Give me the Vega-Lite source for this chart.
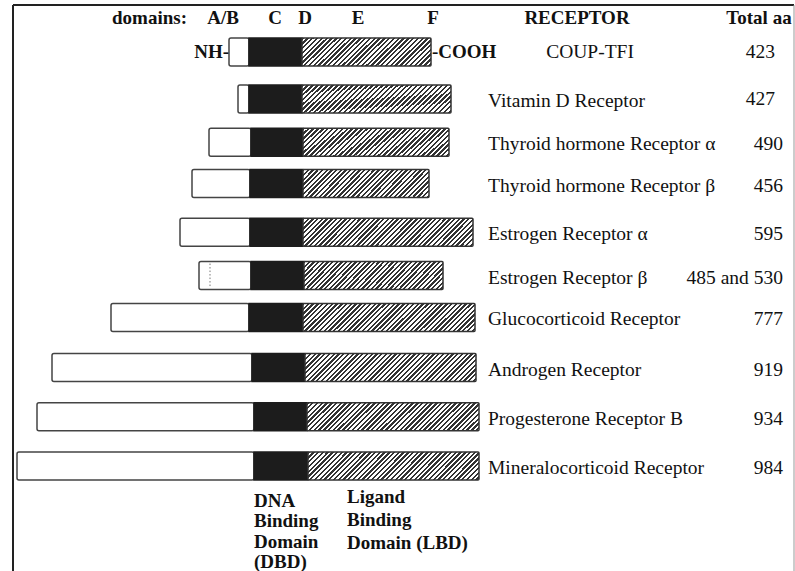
{
  "$schema": "https://vega.github.io/schema/vega-lite/v6.json",
  "width": 795,
  "height": 571,
  "autosize": "none",
  "padding": 0,
  "background": "white",
  "config": {"view": {"stroke": null}, "text": {"font": "Liberation Serif", "fontSize": 19.5, "color": "#111"}, "scale": {"continuousPadding": 0}},
  "datasets": {
    "receptors": [
      {"name": "COUP-TFI", "total": "423", "row": 1.0, "start": 229, "dbd": 249, "lbd": 302, "end": 431},
      {"name": "Vitamin D Receptor", "total": "427", "row": 2.02, "start": 238, "dbd": 249, "lbd": 302, "end": 451},
      {"name": "Thyroid hormone Receptor α", "total": "490", "row": 2.96, "start": 209, "dbd": 251, "lbd": 303, "end": 449},
      {"name": "Thyroid hormone Receptor β", "total": "456", "row": 3.86, "start": 192, "dbd": 250, "lbd": 303, "end": 429},
      {"name": "Estrogen Receptor α", "total": "595", "row": 4.92, "start": 180, "dbd": 250, "lbd": 303, "end": 473},
      {"name": "Estrogen Receptor β", "total": "485 and 530", "row": 5.86, "start": 199, "dbd": 251, "lbd": 304, "end": 443, "alt": 210},
      {"name": "Glucocorticoid Receptor", "total": "777", "row": 6.77, "start": 111, "dbd": 249, "lbd": 303, "end": 475},
      {"name": "Androgen Receptor", "total": "919", "row": 7.86, "start": 52, "dbd": 252, "lbd": 305, "end": 476},
      {"name": "Progesterone Receptor B", "total": "934", "row": 8.93, "start": 37, "dbd": 254, "lbd": 307, "end": 479},
      {"name": "Mineralocorticoid Receptor", "total": "984", "row": 10.0, "start": 17, "dbd": 254, "lbd": 308, "end": 479}
    ],
    "headers": [
      {"label": "domains:", "at": 149.5},
      {"label": "A/B", "at": 223},
      {"label": "C", "at": 275},
      {"label": "D", "at": 305},
      {"label": "E", "at": 358},
      {"label": "F", "at": 433},
      {"label": "RECEPTOR", "at": 577},
      {"label": "Total aa", "at": 759}
    ],
    "one": [{}]
  },
  "layer": [
    {
      "data": {"name": "one"},
      "mark": {"type": "rule", "stroke": "#222", "strokeWidth": 2},
      "encoding": {
        "x": {"datum": 13, "type": "quantitative", "scale": {"domain": [0, 795], "nice": false, "zero": false, "padding": 0}, "axis": null},
        "y": {"datum": -0.02, "type": "quantitative", "scale": {"domain": [-0.1304, 12.2826], "nice": false, "zero": false, "reverse": true, "padding": 0}, "axis": null},
        "y2": {"datum": 12.2826}
      }
    },
    {
      "data": {"name": "one"},
      "mark": {"type": "rule", "stroke": "#222", "strokeWidth": 2},
      "encoding": {
        "x": {"datum": 13, "type": "quantitative", "scale": {"domain": [0, 795], "nice": false, "zero": false, "padding": 0}, "axis": null},
        "x2": {"datum": 794},
        "y": {"datum": -0.02, "type": "quantitative", "scale": {"domain": [-0.1304, 12.2826], "nice": false, "zero": false, "reverse": true, "padding": 0}, "axis": null}
      }
    },
    {
      "data": {"name": "one"},
      "mark": {"type": "rule", "stroke": "#999", "strokeWidth": 1},
      "encoding": {
        "x": {"datum": 794, "type": "quantitative", "scale": {"domain": [0, 795], "nice": false, "zero": false, "padding": 0}, "axis": null},
        "y": {"datum": -0.02, "type": "quantitative", "scale": {"domain": [-0.1304, 12.2826], "nice": false, "zero": false, "reverse": true, "padding": 0}, "axis": null},
        "y2": {"datum": 12.2826}
      }
    },
    {
      "data": {"name": "receptors"},
      "mark": {"type": "bar", "orient": "horizontal", "height": 28, "fill": "white", "stroke": "#444", "strokeWidth": 1.5, "cornerRadius": 2},
      "encoding": {
        "x": {"field": "start", "type": "quantitative", "scale": {"domain": [0, 795], "nice": false, "zero": false, "padding": 0}, "axis": null},
        "x2": {"field": "dbd"},
        "y": {"field": "row", "type": "quantitative", "scale": {"domain": [-0.1304, 12.2826], "nice": false, "zero": false, "reverse": true, "padding": 0}, "axis": null}
      }
    },
    {
      "data": {"name": "receptors"},
      "mark": {"type": "bar", "orient": "horizontal", "height": 28, "fill": "#1c1c1c", "stroke": "#1c1c1c", "strokeWidth": 1.5},
      "encoding": {
        "x": {"field": "dbd", "type": "quantitative", "scale": {"domain": [0, 795], "nice": false, "zero": false, "padding": 0}, "axis": null},
        "x2": {"field": "lbd"},
        "y": {"field": "row", "type": "quantitative", "scale": {"domain": [-0.1304, 12.2826], "nice": false, "zero": false, "reverse": true, "padding": 0}, "axis": null}
      }
    },
    {
      "data": {"name": "receptors"},
      "transform": [{"filter": "datum.end - datum.lbd >= 160"}],
      "mark": {"type": "bar", "orient": "horizontal", "height": 28, "stroke": "#333", "strokeWidth": 1.5, "cornerRadius": 1,
        "fill": {"gradient": "linear", "x1": 0, "y1": 0, "x2": 1.3526, "y2": 0.2214, "stops": [
          {"offset": 0, "color": "#333"}, {"offset": 0.01, "color": "#333"}, {"offset": 0.01, "color": "#fff"}, {"offset": 0.02, "color": "#fff"}, {"offset": 0.02, "color": "#333"}, {"offset": 0.03, "color": "#333"}, {"offset": 0.03, "color": "#fff"}, {"offset": 0.04, "color": "#fff"},
          {"offset": 0.04, "color": "#333"}, {"offset": 0.05, "color": "#333"}, {"offset": 0.05, "color": "#fff"}, {"offset": 0.06, "color": "#fff"}, {"offset": 0.06, "color": "#333"}, {"offset": 0.07, "color": "#333"}, {"offset": 0.07, "color": "#fff"}, {"offset": 0.08, "color": "#fff"},
          {"offset": 0.08, "color": "#333"}, {"offset": 0.09, "color": "#333"}, {"offset": 0.09, "color": "#fff"}, {"offset": 0.10, "color": "#fff"}, {"offset": 0.10, "color": "#333"}, {"offset": 0.11, "color": "#333"}, {"offset": 0.11, "color": "#fff"}, {"offset": 0.12, "color": "#fff"},
          {"offset": 0.12, "color": "#333"}, {"offset": 0.13, "color": "#333"}, {"offset": 0.13, "color": "#fff"}, {"offset": 0.14, "color": "#fff"}, {"offset": 0.14, "color": "#333"}, {"offset": 0.15, "color": "#333"}, {"offset": 0.15, "color": "#fff"}, {"offset": 0.16, "color": "#fff"},
          {"offset": 0.16, "color": "#333"}, {"offset": 0.17, "color": "#333"}, {"offset": 0.17, "color": "#fff"}, {"offset": 0.18, "color": "#fff"}, {"offset": 0.18, "color": "#333"}, {"offset": 0.19, "color": "#333"}, {"offset": 0.19, "color": "#fff"}, {"offset": 0.20, "color": "#fff"},
          {"offset": 0.20, "color": "#333"}, {"offset": 0.21, "color": "#333"}, {"offset": 0.21, "color": "#fff"}, {"offset": 0.22, "color": "#fff"}, {"offset": 0.22, "color": "#333"}, {"offset": 0.23, "color": "#333"}, {"offset": 0.23, "color": "#fff"}, {"offset": 0.24, "color": "#fff"},
          {"offset": 0.24, "color": "#333"}, {"offset": 0.25, "color": "#333"}, {"offset": 0.25, "color": "#fff"}, {"offset": 0.26, "color": "#fff"}, {"offset": 0.26, "color": "#333"}, {"offset": 0.27, "color": "#333"}, {"offset": 0.27, "color": "#fff"}, {"offset": 0.28, "color": "#fff"},
          {"offset": 0.28, "color": "#333"}, {"offset": 0.29, "color": "#333"}, {"offset": 0.29, "color": "#fff"}, {"offset": 0.30, "color": "#fff"}, {"offset": 0.30, "color": "#333"}, {"offset": 0.31, "color": "#333"}, {"offset": 0.31, "color": "#fff"}, {"offset": 0.32, "color": "#fff"},
          {"offset": 0.32, "color": "#333"}, {"offset": 0.33, "color": "#333"}, {"offset": 0.33, "color": "#fff"}, {"offset": 0.34, "color": "#fff"}, {"offset": 0.34, "color": "#333"}, {"offset": 0.35, "color": "#333"}, {"offset": 0.35, "color": "#fff"}, {"offset": 0.36, "color": "#fff"},
          {"offset": 0.36, "color": "#333"}, {"offset": 0.37, "color": "#333"}, {"offset": 0.37, "color": "#fff"}, {"offset": 0.38, "color": "#fff"}, {"offset": 0.38, "color": "#333"}, {"offset": 0.39, "color": "#333"}, {"offset": 0.39, "color": "#fff"}, {"offset": 0.40, "color": "#fff"},
          {"offset": 0.40, "color": "#333"}, {"offset": 0.41, "color": "#333"}, {"offset": 0.41, "color": "#fff"}, {"offset": 0.42, "color": "#fff"}, {"offset": 0.42, "color": "#333"}, {"offset": 0.43, "color": "#333"}, {"offset": 0.43, "color": "#fff"}, {"offset": 0.44, "color": "#fff"},
          {"offset": 0.44, "color": "#333"}, {"offset": 0.45, "color": "#333"}, {"offset": 0.45, "color": "#fff"}, {"offset": 0.46, "color": "#fff"}, {"offset": 0.46, "color": "#333"}, {"offset": 0.47, "color": "#333"}, {"offset": 0.47, "color": "#fff"}, {"offset": 0.48, "color": "#fff"},
          {"offset": 0.48, "color": "#333"}, {"offset": 0.49, "color": "#333"}, {"offset": 0.49, "color": "#fff"}, {"offset": 0.50, "color": "#fff"}, {"offset": 0.50, "color": "#333"}, {"offset": 0.51, "color": "#333"}, {"offset": 0.51, "color": "#fff"}, {"offset": 0.52, "color": "#fff"},
          {"offset": 0.52, "color": "#333"}, {"offset": 0.53, "color": "#333"}, {"offset": 0.53, "color": "#fff"}, {"offset": 0.54, "color": "#fff"}, {"offset": 0.54, "color": "#333"}, {"offset": 0.55, "color": "#333"}, {"offset": 0.55, "color": "#fff"}, {"offset": 0.56, "color": "#fff"},
          {"offset": 0.56, "color": "#333"}, {"offset": 0.57, "color": "#333"}, {"offset": 0.57, "color": "#fff"}, {"offset": 0.58, "color": "#fff"}, {"offset": 0.58, "color": "#333"}, {"offset": 0.59, "color": "#333"}, {"offset": 0.59, "color": "#fff"}, {"offset": 0.60, "color": "#fff"},
          {"offset": 0.60, "color": "#333"}, {"offset": 0.61, "color": "#333"}, {"offset": 0.61, "color": "#fff"}, {"offset": 0.62, "color": "#fff"}, {"offset": 0.62, "color": "#333"}, {"offset": 0.63, "color": "#333"}, {"offset": 0.63, "color": "#fff"}, {"offset": 0.64, "color": "#fff"},
          {"offset": 0.64, "color": "#333"}, {"offset": 0.65, "color": "#333"}, {"offset": 0.65, "color": "#fff"}, {"offset": 0.66, "color": "#fff"}, {"offset": 0.66, "color": "#333"}, {"offset": 0.67, "color": "#333"}, {"offset": 0.67, "color": "#fff"}, {"offset": 0.68, "color": "#fff"},
          {"offset": 0.68, "color": "#333"}, {"offset": 0.69, "color": "#333"}, {"offset": 0.69, "color": "#fff"}, {"offset": 0.70, "color": "#fff"}, {"offset": 0.70, "color": "#333"}, {"offset": 0.71, "color": "#333"}, {"offset": 0.71, "color": "#fff"}, {"offset": 0.72, "color": "#fff"},
          {"offset": 0.72, "color": "#333"}, {"offset": 0.73, "color": "#333"}, {"offset": 0.73, "color": "#fff"}, {"offset": 0.74, "color": "#fff"}, {"offset": 0.74, "color": "#333"}, {"offset": 0.75, "color": "#333"}, {"offset": 0.75, "color": "#fff"}, {"offset": 0.76, "color": "#fff"},
          {"offset": 0.76, "color": "#333"}, {"offset": 0.77, "color": "#333"}, {"offset": 0.77, "color": "#fff"}, {"offset": 0.78, "color": "#fff"}, {"offset": 0.78, "color": "#333"}, {"offset": 0.79, "color": "#333"}, {"offset": 0.79, "color": "#fff"}, {"offset": 0.80, "color": "#fff"},
          {"offset": 0.80, "color": "#333"}, {"offset": 0.81, "color": "#333"}, {"offset": 0.81, "color": "#fff"}, {"offset": 0.82, "color": "#fff"}, {"offset": 0.82, "color": "#333"}, {"offset": 0.83, "color": "#333"}, {"offset": 0.83, "color": "#fff"}, {"offset": 0.84, "color": "#fff"},
          {"offset": 0.84, "color": "#333"}, {"offset": 0.85, "color": "#333"}, {"offset": 0.85, "color": "#fff"}, {"offset": 0.86, "color": "#fff"}, {"offset": 0.86, "color": "#333"}, {"offset": 0.87, "color": "#333"}, {"offset": 0.87, "color": "#fff"}, {"offset": 0.88, "color": "#fff"}
        ]}},
      "encoding": {
        "x": {"field": "lbd", "type": "quantitative", "scale": {"domain": [0, 795], "nice": false, "zero": false, "padding": 0}, "axis": null},
        "x2": {"field": "end"},
        "y": {"field": "row", "type": "quantitative", "scale": {"domain": [-0.1304, 12.2826], "nice": false, "zero": false, "reverse": true, "padding": 0}, "axis": null}
      }
    },
    {
      "data": {"name": "receptors"},
      "transform": [{"filter": "datum.end - datum.lbd >= 135 && datum.end - datum.lbd < 160"}],
      "mark": {"type": "bar", "orient": "horizontal", "height": 28, "stroke": "#333", "strokeWidth": 1.5, "cornerRadius": 1,
        "fill": {"gradient": "linear", "x1": 0, "y1": 0, "x2": 1.61, "y2": 0.3175, "stops": [
          {"offset": 0, "color": "#333"}, {"offset": 0.01, "color": "#333"}, {"offset": 0.01, "color": "#fff"}, {"offset": 0.02, "color": "#fff"}, {"offset": 0.02, "color": "#333"}, {"offset": 0.03, "color": "#333"}, {"offset": 0.03, "color": "#fff"}, {"offset": 0.04, "color": "#fff"},
          {"offset": 0.04, "color": "#333"}, {"offset": 0.05, "color": "#333"}, {"offset": 0.05, "color": "#fff"}, {"offset": 0.06, "color": "#fff"}, {"offset": 0.06, "color": "#333"}, {"offset": 0.07, "color": "#333"}, {"offset": 0.07, "color": "#fff"}, {"offset": 0.08, "color": "#fff"},
          {"offset": 0.08, "color": "#333"}, {"offset": 0.09, "color": "#333"}, {"offset": 0.09, "color": "#fff"}, {"offset": 0.10, "color": "#fff"}, {"offset": 0.10, "color": "#333"}, {"offset": 0.11, "color": "#333"}, {"offset": 0.11, "color": "#fff"}, {"offset": 0.12, "color": "#fff"},
          {"offset": 0.12, "color": "#333"}, {"offset": 0.13, "color": "#333"}, {"offset": 0.13, "color": "#fff"}, {"offset": 0.14, "color": "#fff"}, {"offset": 0.14, "color": "#333"}, {"offset": 0.15, "color": "#333"}, {"offset": 0.15, "color": "#fff"}, {"offset": 0.16, "color": "#fff"},
          {"offset": 0.16, "color": "#333"}, {"offset": 0.17, "color": "#333"}, {"offset": 0.17, "color": "#fff"}, {"offset": 0.18, "color": "#fff"}, {"offset": 0.18, "color": "#333"}, {"offset": 0.19, "color": "#333"}, {"offset": 0.19, "color": "#fff"}, {"offset": 0.20, "color": "#fff"},
          {"offset": 0.20, "color": "#333"}, {"offset": 0.21, "color": "#333"}, {"offset": 0.21, "color": "#fff"}, {"offset": 0.22, "color": "#fff"}, {"offset": 0.22, "color": "#333"}, {"offset": 0.23, "color": "#333"}, {"offset": 0.23, "color": "#fff"}, {"offset": 0.24, "color": "#fff"},
          {"offset": 0.24, "color": "#333"}, {"offset": 0.25, "color": "#333"}, {"offset": 0.25, "color": "#fff"}, {"offset": 0.26, "color": "#fff"}, {"offset": 0.26, "color": "#333"}, {"offset": 0.27, "color": "#333"}, {"offset": 0.27, "color": "#fff"}, {"offset": 0.28, "color": "#fff"},
          {"offset": 0.28, "color": "#333"}, {"offset": 0.29, "color": "#333"}, {"offset": 0.29, "color": "#fff"}, {"offset": 0.30, "color": "#fff"}, {"offset": 0.30, "color": "#333"}, {"offset": 0.31, "color": "#333"}, {"offset": 0.31, "color": "#fff"}, {"offset": 0.32, "color": "#fff"},
          {"offset": 0.32, "color": "#333"}, {"offset": 0.33, "color": "#333"}, {"offset": 0.33, "color": "#fff"}, {"offset": 0.34, "color": "#fff"}, {"offset": 0.34, "color": "#333"}, {"offset": 0.35, "color": "#333"}, {"offset": 0.35, "color": "#fff"}, {"offset": 0.36, "color": "#fff"},
          {"offset": 0.36, "color": "#333"}, {"offset": 0.37, "color": "#333"}, {"offset": 0.37, "color": "#fff"}, {"offset": 0.38, "color": "#fff"}, {"offset": 0.38, "color": "#333"}, {"offset": 0.39, "color": "#333"}, {"offset": 0.39, "color": "#fff"}, {"offset": 0.40, "color": "#fff"},
          {"offset": 0.40, "color": "#333"}, {"offset": 0.41, "color": "#333"}, {"offset": 0.41, "color": "#fff"}, {"offset": 0.42, "color": "#fff"}, {"offset": 0.42, "color": "#333"}, {"offset": 0.43, "color": "#333"}, {"offset": 0.43, "color": "#fff"}, {"offset": 0.44, "color": "#fff"},
          {"offset": 0.44, "color": "#333"}, {"offset": 0.45, "color": "#333"}, {"offset": 0.45, "color": "#fff"}, {"offset": 0.46, "color": "#fff"}, {"offset": 0.46, "color": "#333"}, {"offset": 0.47, "color": "#333"}, {"offset": 0.47, "color": "#fff"}, {"offset": 0.48, "color": "#fff"},
          {"offset": 0.48, "color": "#333"}, {"offset": 0.49, "color": "#333"}, {"offset": 0.49, "color": "#fff"}, {"offset": 0.50, "color": "#fff"}, {"offset": 0.50, "color": "#333"}, {"offset": 0.51, "color": "#333"}, {"offset": 0.51, "color": "#fff"}, {"offset": 0.52, "color": "#fff"},
          {"offset": 0.52, "color": "#333"}, {"offset": 0.53, "color": "#333"}, {"offset": 0.53, "color": "#fff"}, {"offset": 0.54, "color": "#fff"}, {"offset": 0.54, "color": "#333"}, {"offset": 0.55, "color": "#333"}, {"offset": 0.55, "color": "#fff"}, {"offset": 0.56, "color": "#fff"},
          {"offset": 0.56, "color": "#333"}, {"offset": 0.57, "color": "#333"}, {"offset": 0.57, "color": "#fff"}, {"offset": 0.58, "color": "#fff"}, {"offset": 0.58, "color": "#333"}, {"offset": 0.59, "color": "#333"}, {"offset": 0.59, "color": "#fff"}, {"offset": 0.60, "color": "#fff"},
          {"offset": 0.60, "color": "#333"}, {"offset": 0.61, "color": "#333"}, {"offset": 0.61, "color": "#fff"}, {"offset": 0.62, "color": "#fff"}, {"offset": 0.62, "color": "#333"}, {"offset": 0.63, "color": "#333"}, {"offset": 0.63, "color": "#fff"}, {"offset": 0.64, "color": "#fff"},
          {"offset": 0.64, "color": "#333"}, {"offset": 0.65, "color": "#333"}, {"offset": 0.65, "color": "#fff"}, {"offset": 0.66, "color": "#fff"}, {"offset": 0.66, "color": "#333"}, {"offset": 0.67, "color": "#333"}, {"offset": 0.67, "color": "#fff"}, {"offset": 0.68, "color": "#fff"},
          {"offset": 0.68, "color": "#333"}, {"offset": 0.69, "color": "#333"}, {"offset": 0.69, "color": "#fff"}, {"offset": 0.70, "color": "#fff"}, {"offset": 0.70, "color": "#333"}, {"offset": 0.71, "color": "#333"}, {"offset": 0.71, "color": "#fff"}, {"offset": 0.72, "color": "#fff"},
          {"offset": 0.72, "color": "#333"}, {"offset": 0.73, "color": "#333"}, {"offset": 0.73, "color": "#fff"}, {"offset": 0.74, "color": "#fff"}, {"offset": 0.74, "color": "#333"}, {"offset": 0.75, "color": "#333"}, {"offset": 0.75, "color": "#fff"}, {"offset": 0.76, "color": "#fff"}
        ]}},
      "encoding": {
        "x": {"field": "lbd", "type": "quantitative", "scale": {"domain": [0, 795], "nice": false, "zero": false, "padding": 0}, "axis": null},
        "x2": {"field": "end"},
        "y": {"field": "row", "type": "quantitative", "scale": {"domain": [-0.1304, 12.2826], "nice": false, "zero": false, "reverse": true, "padding": 0}, "axis": null}
      }
    },
    {
      "data": {"name": "receptors"},
      "transform": [{"filter": "datum.end - datum.lbd < 135"}],
      "mark": {"type": "bar", "orient": "horizontal", "height": 28, "stroke": "#333", "strokeWidth": 1.5, "cornerRadius": 1,
        "fill": {"gradient": "linear", "x1": 0, "y1": 0, "x2": 1.777, "y2": 0.3903, "stops": [
          {"offset": 0, "color": "#333"}, {"offset": 0.01, "color": "#333"}, {"offset": 0.01, "color": "#fff"}, {"offset": 0.02, "color": "#fff"}, {"offset": 0.02, "color": "#333"}, {"offset": 0.03, "color": "#333"}, {"offset": 0.03, "color": "#fff"}, {"offset": 0.04, "color": "#fff"},
          {"offset": 0.04, "color": "#333"}, {"offset": 0.05, "color": "#333"}, {"offset": 0.05, "color": "#fff"}, {"offset": 0.06, "color": "#fff"}, {"offset": 0.06, "color": "#333"}, {"offset": 0.07, "color": "#333"}, {"offset": 0.07, "color": "#fff"}, {"offset": 0.08, "color": "#fff"},
          {"offset": 0.08, "color": "#333"}, {"offset": 0.09, "color": "#333"}, {"offset": 0.09, "color": "#fff"}, {"offset": 0.10, "color": "#fff"}, {"offset": 0.10, "color": "#333"}, {"offset": 0.11, "color": "#333"}, {"offset": 0.11, "color": "#fff"}, {"offset": 0.12, "color": "#fff"},
          {"offset": 0.12, "color": "#333"}, {"offset": 0.13, "color": "#333"}, {"offset": 0.13, "color": "#fff"}, {"offset": 0.14, "color": "#fff"}, {"offset": 0.14, "color": "#333"}, {"offset": 0.15, "color": "#333"}, {"offset": 0.15, "color": "#fff"}, {"offset": 0.16, "color": "#fff"},
          {"offset": 0.16, "color": "#333"}, {"offset": 0.17, "color": "#333"}, {"offset": 0.17, "color": "#fff"}, {"offset": 0.18, "color": "#fff"}, {"offset": 0.18, "color": "#333"}, {"offset": 0.19, "color": "#333"}, {"offset": 0.19, "color": "#fff"}, {"offset": 0.20, "color": "#fff"},
          {"offset": 0.20, "color": "#333"}, {"offset": 0.21, "color": "#333"}, {"offset": 0.21, "color": "#fff"}, {"offset": 0.22, "color": "#fff"}, {"offset": 0.22, "color": "#333"}, {"offset": 0.23, "color": "#333"}, {"offset": 0.23, "color": "#fff"}, {"offset": 0.24, "color": "#fff"},
          {"offset": 0.24, "color": "#333"}, {"offset": 0.25, "color": "#333"}, {"offset": 0.25, "color": "#fff"}, {"offset": 0.26, "color": "#fff"}, {"offset": 0.26, "color": "#333"}, {"offset": 0.27, "color": "#333"}, {"offset": 0.27, "color": "#fff"}, {"offset": 0.28, "color": "#fff"},
          {"offset": 0.28, "color": "#333"}, {"offset": 0.29, "color": "#333"}, {"offset": 0.29, "color": "#fff"}, {"offset": 0.30, "color": "#fff"}, {"offset": 0.30, "color": "#333"}, {"offset": 0.31, "color": "#333"}, {"offset": 0.31, "color": "#fff"}, {"offset": 0.32, "color": "#fff"},
          {"offset": 0.32, "color": "#333"}, {"offset": 0.33, "color": "#333"}, {"offset": 0.33, "color": "#fff"}, {"offset": 0.34, "color": "#fff"}, {"offset": 0.34, "color": "#333"}, {"offset": 0.35, "color": "#333"}, {"offset": 0.35, "color": "#fff"}, {"offset": 0.36, "color": "#fff"},
          {"offset": 0.36, "color": "#333"}, {"offset": 0.37, "color": "#333"}, {"offset": 0.37, "color": "#fff"}, {"offset": 0.38, "color": "#fff"}, {"offset": 0.38, "color": "#333"}, {"offset": 0.39, "color": "#333"}, {"offset": 0.39, "color": "#fff"}, {"offset": 0.40, "color": "#fff"},
          {"offset": 0.40, "color": "#333"}, {"offset": 0.41, "color": "#333"}, {"offset": 0.41, "color": "#fff"}, {"offset": 0.42, "color": "#fff"}, {"offset": 0.42, "color": "#333"}, {"offset": 0.43, "color": "#333"}, {"offset": 0.43, "color": "#fff"}, {"offset": 0.44, "color": "#fff"},
          {"offset": 0.44, "color": "#333"}, {"offset": 0.45, "color": "#333"}, {"offset": 0.45, "color": "#fff"}, {"offset": 0.46, "color": "#fff"}, {"offset": 0.46, "color": "#333"}, {"offset": 0.47, "color": "#333"}, {"offset": 0.47, "color": "#fff"}, {"offset": 0.48, "color": "#fff"},
          {"offset": 0.48, "color": "#333"}, {"offset": 0.49, "color": "#333"}, {"offset": 0.49, "color": "#fff"}, {"offset": 0.50, "color": "#fff"}, {"offset": 0.50, "color": "#333"}, {"offset": 0.51, "color": "#333"}, {"offset": 0.51, "color": "#fff"}, {"offset": 0.52, "color": "#fff"},
          {"offset": 0.52, "color": "#333"}, {"offset": 0.53, "color": "#333"}, {"offset": 0.53, "color": "#fff"}, {"offset": 0.54, "color": "#fff"}, {"offset": 0.54, "color": "#333"}, {"offset": 0.55, "color": "#333"}, {"offset": 0.55, "color": "#fff"}, {"offset": 0.56, "color": "#fff"},
          {"offset": 0.56, "color": "#333"}, {"offset": 0.57, "color": "#333"}, {"offset": 0.57, "color": "#fff"}, {"offset": 0.58, "color": "#fff"}, {"offset": 0.58, "color": "#333"}, {"offset": 0.59, "color": "#333"}, {"offset": 0.59, "color": "#fff"}, {"offset": 0.60, "color": "#fff"},
          {"offset": 0.60, "color": "#333"}, {"offset": 0.61, "color": "#333"}, {"offset": 0.61, "color": "#fff"}, {"offset": 0.62, "color": "#fff"}, {"offset": 0.62, "color": "#333"}, {"offset": 0.63, "color": "#333"}, {"offset": 0.63, "color": "#fff"}, {"offset": 0.64, "color": "#fff"},
          {"offset": 0.64, "color": "#333"}, {"offset": 0.65, "color": "#333"}, {"offset": 0.65, "color": "#fff"}, {"offset": 0.66, "color": "#fff"}, {"offset": 0.66, "color": "#333"}, {"offset": 0.67, "color": "#333"}, {"offset": 0.67, "color": "#fff"}, {"offset": 0.68, "color": "#fff"}
        ]}},
      "encoding": {
        "x": {"field": "lbd", "type": "quantitative", "scale": {"domain": [0, 795], "nice": false, "zero": false, "padding": 0}, "axis": null},
        "x2": {"field": "end"},
        "y": {"field": "row", "type": "quantitative", "scale": {"domain": [-0.1304, 12.2826], "nice": false, "zero": false, "reverse": true, "padding": 0}, "axis": null}
      }
    },
    {
      "data": {"name": "receptors"},
      "transform": [{"filter": "isValid(datum.alt)"}],
      "mark": {"type": "rule", "stroke": "#777", "strokeWidth": 1, "strokeDash": [1.5, 2], "yOffset": -12, "y2Offset": 12},
      "encoding": {
        "x": {"field": "alt", "type": "quantitative", "scale": {"domain": [0, 795], "nice": false, "zero": false, "padding": 0}, "axis": null},
        "y": {"field": "row", "type": "quantitative", "scale": {"domain": [-0.1304, 12.2826], "nice": false, "zero": false, "reverse": true, "padding": 0}, "axis": null},
        "y2": {"field": "row"}
      }
    },
    {
      "data": {"name": "receptors"},
      "transform": [{"filter": "datum.row > 1.5"}],
      "mark": {"type": "text", "align": "left", "baseline": "middle", "dy": 2},
      "encoding": {
        "x": {"datum": 488, "type": "quantitative", "scale": {"domain": [0, 795], "nice": false, "zero": false, "padding": 0}, "axis": null},
        "y": {"field": "row", "type": "quantitative", "scale": {"domain": [-0.1304, 12.2826], "nice": false, "zero": false, "reverse": true, "padding": 0}, "axis": null},
        "text": {"field": "name"}
      }
    },
    {
      "data": {"name": "receptors"},
      "transform": [{"filter": "datum.row < 1.5"}],
      "mark": {"type": "text", "align": "center", "baseline": "middle"},
      "encoding": {
        "x": {"datum": 590, "type": "quantitative", "scale": {"domain": [0, 795], "nice": false, "zero": false, "padding": 0}, "axis": null},
        "y": {"field": "row", "type": "quantitative", "scale": {"domain": [-0.1304, 12.2826], "nice": false, "zero": false, "reverse": true, "padding": 0}, "axis": null},
        "text": {"field": "name"}
      }
    },
    {
      "data": {"name": "receptors"},
      "transform": [{"filter": "datum.row > 2.5"}],
      "mark": {"type": "text", "align": "right", "baseline": "middle", "dy": 2},
      "encoding": {
        "x": {"datum": 783, "type": "quantitative", "scale": {"domain": [0, 795], "nice": false, "zero": false, "padding": 0}, "axis": null},
        "y": {"field": "row", "type": "quantitative", "scale": {"domain": [-0.1304, 12.2826], "nice": false, "zero": false, "reverse": true, "padding": 0}, "axis": null},
        "text": {"field": "total"}
      }
    },
    {
      "data": {"name": "receptors"},
      "transform": [{"filter": "datum.row < 2.5"}],
      "mark": {"type": "text", "align": "right", "baseline": "middle"},
      "encoding": {
        "x": {"datum": 775, "type": "quantitative", "scale": {"domain": [0, 795], "nice": false, "zero": false, "padding": 0}, "axis": null},
        "y": {"field": "row", "type": "quantitative", "scale": {"domain": [-0.1304, 12.2826], "nice": false, "zero": false, "reverse": true, "padding": 0}, "axis": null},
        "text": {"field": "total"}
      }
    },
    {
      "data": {"name": "headers"},
      "mark": {"type": "text", "align": "center", "baseline": "middle", "fontWeight": "bold", "fontSize": 19},
      "encoding": {
        "x": {"field": "at", "type": "quantitative", "scale": {"domain": [0, 795], "nice": false, "zero": false, "padding": 0}, "axis": null},
        "y": {"datum": 0.261, "type": "quantitative", "scale": {"domain": [-0.1304, 12.2826], "nice": false, "zero": false, "reverse": true, "padding": 0}, "axis": null},
        "text": {"field": "label"}
      }
    },
    {
      "data": {"name": "one"},
      "mark": {"type": "text", "align": "right", "baseline": "middle", "fontWeight": "bold", "fontSize": 19},
      "encoding": {
        "x": {"datum": 229, "type": "quantitative", "scale": {"domain": [0, 795], "nice": false, "zero": false, "padding": 0}, "axis": null},
        "y": {"datum": 1.0, "type": "quantitative", "scale": {"domain": [-0.1304, 12.2826], "nice": false, "zero": false, "reverse": true, "padding": 0}, "axis": null},
        "text": {"value": "NH-"}
      }
    },
    {
      "data": {"name": "one"},
      "mark": {"type": "text", "align": "left", "baseline": "middle", "fontWeight": "bold", "fontSize": 19},
      "encoding": {
        "x": {"datum": 432, "type": "quantitative", "scale": {"domain": [0, 795], "nice": false, "zero": false, "padding": 0}, "axis": null},
        "y": {"datum": 1.0, "type": "quantitative", "scale": {"domain": [-0.1304, 12.2826], "nice": false, "zero": false, "reverse": true, "padding": 0}, "axis": null},
        "text": {"value": "-COOH"}
      }
    },
    {
      "data": {"name": "one"},
      "mark": {"type": "text", "align": "left", "baseline": "alphabetic", "fontWeight": "bold", "fontSize": 19, "lineHeight": 20.5},
      "encoding": {
        "x": {"datum": 254, "type": "quantitative", "scale": {"domain": [0, 795], "nice": false, "zero": false, "padding": 0}, "axis": null},
        "y": {"datum": 10.891, "type": "quantitative", "scale": {"domain": [-0.1304, 12.2826], "nice": false, "zero": false, "reverse": true, "padding": 0}, "axis": null},
        "text": {"value": ["DNA", "Binding", "Domain", "(DBD)"]}
      }
    },
    {
      "data": {"name": "one"},
      "mark": {"type": "text", "align": "left", "baseline": "alphabetic", "fontWeight": "bold", "fontSize": 19, "lineHeight": 23},
      "encoding": {
        "x": {"datum": 347, "type": "quantitative", "scale": {"domain": [0, 795], "nice": false, "zero": false, "padding": 0}, "axis": null},
        "y": {"datum": 10.804, "type": "quantitative", "scale": {"domain": [-0.1304, 12.2826], "nice": false, "zero": false, "reverse": true, "padding": 0}, "axis": null},
        "text": {"value": ["Ligand", "Binding", "Domain (LBD)"]}
      }
    }
  ]
}
